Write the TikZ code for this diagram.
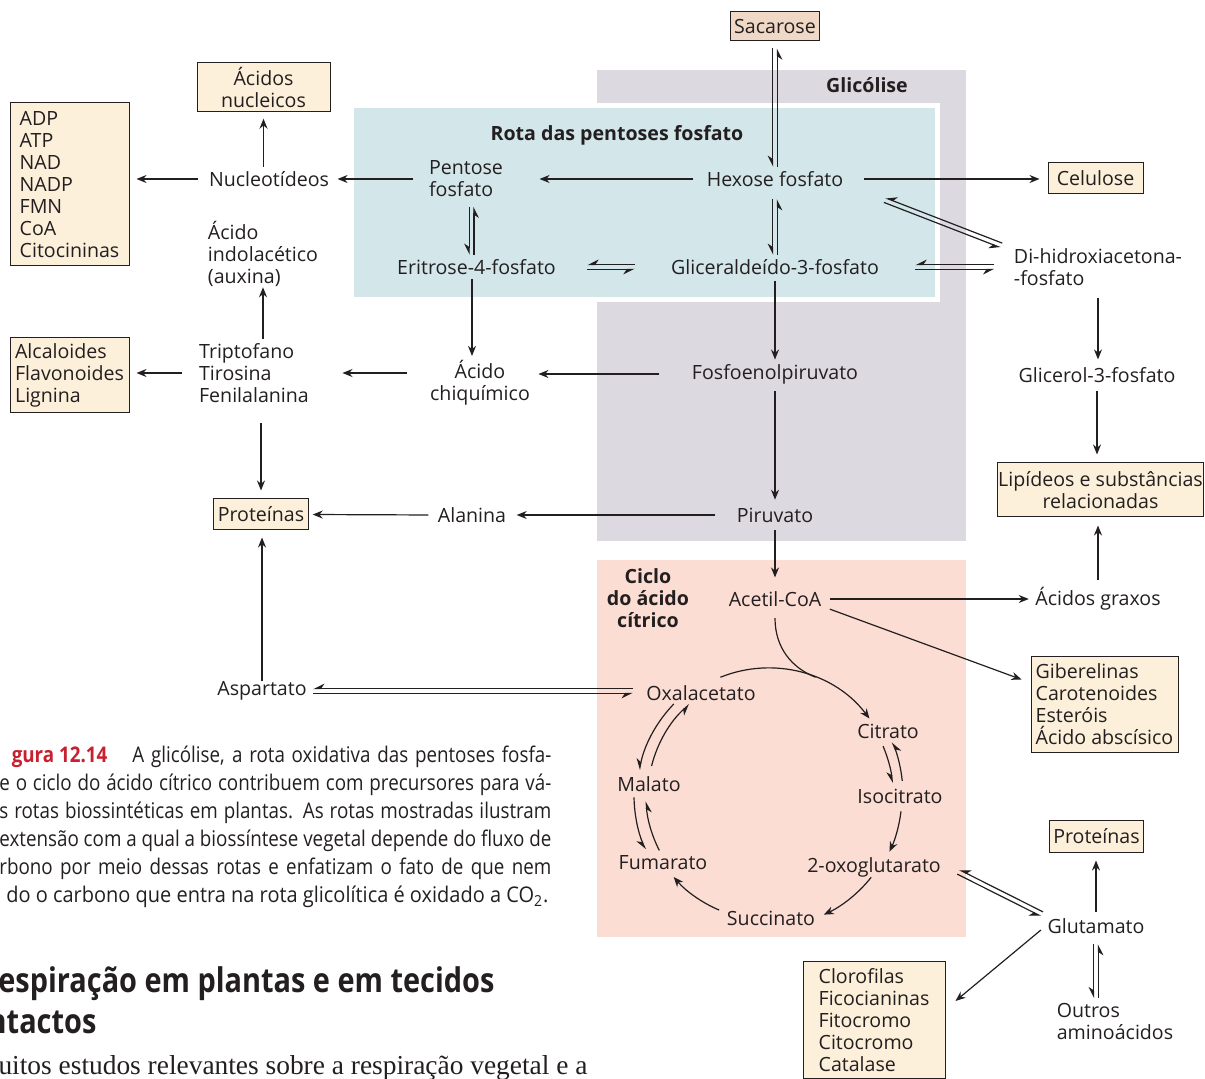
\documentclass[tikz,border=0pt]{standalone}
\usepackage{fontspec}
\setmainfont{Open Sans}
\newfontfamily\capfont[FakeStretch=0.87]{Open Sans}
\newfontfamily\capwide[FakeStretch=0.925]{Open Sans}
\newfontfamily\headfont[FakeStretch=0.85]{Open Sans}
\newfontfamily\serifbody{Liberation Serif}
\usetikzlibrary{arrows.meta,calc}

\definecolor{glyc}{HTML}{DCD9E1}
\definecolor{ppp}{HTML}{D3E6EA}
\definecolor{tca}{HTML}{FBDDD3}
\definecolor{prod}{HTML}{FDF0DA}
\definecolor{sucr}{HTML}{EFD9C6}
\definecolor{ink}{HTML}{231F20}
\definecolor{figred}{HTML}{C8202F}

% two opposite half-arrows between two points
\newcommand{\revpair}[2]{%
  \draw[hpn] ($(#1)!1.2pt!-90:(#2)$) -- ($(#2)!1.2pt!90:(#1)$);
  \draw[hpn] ($(#2)!1.2pt!-90:(#1)$) -- ($(#1)!1.2pt!90:(#2)$);}
% one justified caption line
\newcommand{\capline}[2]{\makebox[#1][s]{#2}}

\begin{document}
\begin{tikzpicture}[x=0.5pt, y=-0.5pt, line width=0.6pt,
  every node/.style={font=\fontsize{9.8}{11}\selectfont, text=ink, inner sep=2pt},
  fw/.style={draw=ink, -{Stealth[length=5pt,width=4pt]}},
  hpn/.style={draw=ink, -{Stealth[harpoon,swap,length=5pt,width=5pt]}},
  box/.style={draw=ink, fill=prod, line width=0.5pt, inner sep=2pt},
  ttl/.style={font=\fontsize{9.8}{11}\selectfont\bfseries},
  captxt/.style={anchor=east, inner sep=0pt, font=\capfont\fontsize{10.8}{12}\selectfont}]
  \useasboundingbox (0,0) rectangle (1205,1079);
  \clip (0,0) rectangle (1205,1079);

  % background areas
  \fill[glyc] (597,70) rectangle (966,541);
  \fill[tca] (597,560) rectangle (966,937);
  \fill[white] (349,103) rectangle (940,302);
  \fill[ppp] (354,108) rectangle (935,297);
  \node[ttl] (glictl) at (867,85) {Glicólise};
  \node[ttl] (ppptl) at (617,135) {Rota das pentoses fosfato};
  \node[ttl, align=center] (tcatl) at (648,598) {Ciclo\\do ácido\\cítrico};

  % boxes
  \node[box, fill=sucr, minimum width=41pt, minimum height=14.5pt] (sac) at (775,26.5) {Sacarose};
  \node[box, align=center, minimum width=66.5pt, minimum height=23pt] (acnuc) at (263.5,87) {Ácidos\\nucleicos};
  \node[box, align=left, minimum width=59.5pt, minimum height=81.5pt] (adp) at (69.5,184.5) {ADP\\ATP\\NAD\\NADP\\FMN\\CoA\\Citocininas};
  \node[box, minimum width=47.5pt, minimum height=15.5pt] (cel) at (1095.5,178.5) {Celulose};
  \node[box, align=left, minimum width=59.5pt, minimum height=37.5pt] (alc) at (69.5,375.5) {Alcaloides\\Flavonoides\\Lignina};
  \node[box, minimum width=45pt, minimum height=15.5pt] (protL) at (261,514.5) {Proteínas};
  \node[box, align=center, inner xsep=0.5pt, minimum width=101.5pt, minimum height=27pt] (lip) at (1100.5,490) {Lipídeos e substâncias\\relacionadas};
  \node[box, align=left, minimum width=73.5pt, minimum height=47.5pt] (gib) at (1104.5,704.5) {Giberelinas\\Carotenoides\\Esteróis\\Ácido abscísico};
  \node[box, minimum width=45.5pt, minimum height=16pt] (protR) at (1096.5,836) {Proteínas};
  \node[box, anchor=north, align=left, inner xsep=4pt, inner ysep=3.5pt, minimum width=71pt] (clo) at (874,961) {Clorofilas\\Ficocianinas\\Fitocromo\\Citocromo\\Catalase};

  % metabolites
  \node (hex) at (775,179) {Hexose fosfato};
  \node[align=left] (pent) at (466,179) {Pentose\\fosfato};
  \node (nuc) at (269,179) {Nucleotídeos};
  \node (eri) at (476.5,267) {Eritrose-4-fosfato};
  \node (gli) at (775,267) {Gliceraldeído-3-fosfato};
  \node[align=left] (dhap) at (1098,267.5) {Di-hidroxiacetona-\\-fosfato};
  \node[align=left] (aux) at (263,254) {Ácido\\indolacético\\(auxina)};
  \node[align=left] (trip) at (254,373) {Triptofano\\Tirosina\\Fenilalanina};
  \node[align=center] (chiq) at (480,383) {Ácido\\chiquímico};
  \node (fosfo) at (775,374) {Fosfoenolpiruvato};
  \node (gl3p) at (1097,375) {Glicerol-3-fosfato};
  \node (ala) at (472,515) {Alanina};
  \node (piru) at (775,515) {Piruvato};
  \node (acetil) at (775,599) {Acetil-CoA};
  \node (ag) at (1098,599) {Ácidos graxos};
  \node (asp) at (262,691) {Aspartato};
  \node (oxa) at (701,693) {Oxalacetato};
  \node (cit) at (888,731) {Citrato};
  \node (iso) at (900,796) {Isocitrato};
  \node (mal) at (649,784) {Malato};
  \node (fum) at (663,863) {Fumarato};
  \node (oxo) at (874,867) {2-oxoglutarato};
  \node (suc) at (771,918) {Succinato};
  \node (glu) at (1096,926) {Glutamato};
  \node[align=left] (outros) at (1115,1021) {Outros\\aminoácidos};

  % reversible steps
  \coordinate (sh1) at ([yshift=-3.5pt]sac.south);
  \coordinate (sh2) at (sac.south |- hex.north);
  \revpair{sh1}{sh2}
  \coordinate (hg1) at ([yshift=-4pt]hex.south);
  \coordinate (hg2) at (hex.south |- gli.north);
  \revpair{hg1}{hg2}
  \coordinate (pe1) at ([xshift=2.75pt,yshift=-2.5pt]pent.south);
  \coordinate (pe2) at (pe1 |- eri.north);
  \revpair{pe1}{pe2}
  \coordinate (eg1) at ([xshift=13.5pt]eri.east);
  \coordinate (eg2) at ([xshift=-16pt]gli.west);
  \revpair{eg1}{eg2}
  \coordinate (gd1) at ([xshift=16pt]gli.east);
  \coordinate (gd2) at ($(gli.east -| dhap.west)+(-7.5pt,0)$);
  \revpair{gd1}{gd2}
  \coordinate (hd1) at ([shift={(18.5pt,-4.5pt)}]hex.south east);
  \coordinate (hd2) at ([shift={(-4pt,-0.5pt)}]dhap.north west);
  \revpair{hd1}{hd2}
  \coordinate (ao1) at ([xshift=1pt]asp.east);
  \coordinate (ao2) at ($(ao1 -| oxa.west)+(-4.5pt,0)$);
  \revpair{ao1}{ao2}
  \coordinate (og1) at ([shift={(6.5pt,-2.5pt)}]oxo.east);
  \coordinate (og2) at ([shift={(-0.5pt,6pt)}]glu.west);
  \revpair{og1}{og2}
  \coordinate (go1) at ([yshift=-3pt]glu.south);
  \coordinate (go2) at (glu.south |- outros.north);
  \revpair{go1}{go2}

  % one-way steps
  \draw[fw, shorten <=8pt, shorten >=4pt] (hex.east) -- (hex.east -| cel.west);
  \draw[fw, shorten <=4.5pt, shorten >=16pt] (hex.west) -- (hex.west -| pent.east);
  \draw[fw, shorten <=5.5pt, shorten >=2pt] (pent.west) -- (pent.west -| nuc.east);
  \draw[fw, shorten <=3pt, shorten >=3.5pt] (nuc.west) -- (nuc.west -| adp.east);
  \draw[fw, shorten >=3.5pt] (acnuc.south |- nuc.north) -- (acnuc.south);
  \draw[fw, shorten <=1pt] (gli.south) -- (fosfo.north);
  \draw[fw] ([xshift=-2.25pt]eri.south) -- ([xshift=-2.25pt]eri.south |- chiq.north);
  \draw[fw, shorten <=14pt, shorten >=2pt] (fosfo.west) -- (fosfo.west -| chiq.east);
  \draw[fw, shorten <=9.5pt, shorten >=14.5pt] (trip.east -| chiq.west) -- (trip.east);
  \draw[fw, shorten <=6.5pt, shorten >=3.5pt] (trip.west) -- (trip.west -| alc.east);
  \draw[fw, shorten >=-2pt] (aux.south |- trip.north) -- (aux.south);
  \draw[fw, shorten <=8pt, shorten >=4pt] (trip.south -| protL.north) -- (protL.north);
  \draw[fw, shorten <=1.5pt, shorten >=1.7pt] (fosfo.south) -- (piru.north);
  \draw[fw, shorten <=8.5pt, shorten >=3pt] (piru.west) -- (ala.east);
  \draw[fw, shorten <=2.5pt, shorten >=2pt] (ala.west) -- (protL.east);
  \draw[fw, shorten <=1.7pt, shorten >=4.7pt] (piru.south) -- (acetil.north);
  \draw[fw, shorten <=2pt, shorten >=1pt] (acetil.east) -- (acetil.east -| ag.west);
  \draw[fw] ([shift={(2pt,1pt)}]acetil.south east) -- ([shift={(-4.5pt,-11.5pt)}]gib.north west);
  \draw[fw, shorten <=3.5pt, shorten >=1.7pt] (dhap.south) -- (dhap.south |- gl3p.north);
  \draw[fw, shorten <=1.7pt, shorten >=4pt] (gl3p.south) -- (gl3p.south |- lip.north);
  \draw[fw, shorten <=1.7pt, shorten >=4pt] (ag.north) -- (ag.north |- lip.south);
  \draw[fw, shorten <=-2pt, shorten >=3.5pt] (asp.north) -- (asp.north |- protL.south);
  \draw[fw, shorten <=1pt, shorten >=4pt] (glu.north) -- (glu.north |- protR.south);
  \draw[fw] ([shift={(-1pt,-2pt)}]glu.west) -- ([shift={(5pt,-20pt)}]clo.north east);

  % citric acid cycle
  \coordinate (cyc) at (768,795);
  \coordinate (join) at ($(cyc)+(-68:127)$);
  \draw[draw=ink, shorten <=3.5pt] (acetil.south) .. controls (775,648) and (792,668) .. (join);
  \draw[fw] ($(cyc)+(-112:127)$) arc[start angle=-112, end angle=-37, radius=127];
  \draw[hpn] ($(cyc)+(-23:125)$) arc[start angle=-23, end angle=-5.5, radius=125];
  \draw[hpn] ($(cyc)+(-6:135)$) arc[start angle=-6, end angle=-23, radius=135];
  \draw[fw] ($(cyc)+(7:134)$) arc[start angle=7, end angle=25, radius=134];
  \draw[fw] ($(cyc)+(38.6:132)$) arc[start angle=38.6, end angle=65, radius=132];
  \draw[fw] ($(cyc)+(113:125)$) arc[start angle=113, end angle=139, radius=125];
  \draw[hpn] ($(cyc)+(179:134)$) arc[start angle=179, end angle=156, radius=134];
  \draw[hpn] ($(cyc)+(153:122)$) arc[start angle=153, end angle=177, radius=122];
  \draw[hpn] ($(cyc)+(-136:131)$) arc[start angle=-136, end angle=-169, radius=131];
  \draw[hpn] ($(cyc)+(-166:120)$) arc[start angle=-166, end angle=-131, radius=120];

  % caption and page text
  \node[captxt, font=\capfont\fontsize{10.8}{12}\selectfont\bfseries, text=figred] (fignum) at (108,757) {gura 12.14};
  \node[captxt] (cap1) at (552,757) {\capline{209.5pt}{A glicólise, a rota oxidativa das pentoses fosfa-}};
  \node[captxt] (cap2) at (552,785) {\capline{276pt}{e o ciclo do ácido cítrico contribuem com precursores para vá-}};
  \node[captxt] (cap3) at (552,813) {\capline{276pt}{s rotas biossintéticas em plantas. As rotas mostradas ilustram}};
  \node[captxt] (cap4) at (552,841) {\capline{276pt}{extensão com a qual a biossíntese vegetal depende do fluxo de}};
  \node[captxt] (cap5) at (552,869) {\capline{276pt}{rbono por meio dessas rotas e enfatizam o fato de que nem}};
  \node[captxt, font=\capwide\fontsize{10.8}{12}\selectfont] (cap6) at (549,897) {do o carbono que entra na rota glicolítica é oxidado a CO\textsubscript{2}.};
  \node[anchor=east, font=\headfont\fontsize{17}{19}\selectfont\bfseries] (head1) at (499,984) {espiração em plantas e em tecidos};
  \node[anchor=east, font=\headfont\fontsize{17}{19}\selectfont\bfseries] (head2) at (101,1022) {ntactos};
  \node[anchor=east, font=\serifbody\fontsize{13.7}{15}\selectfont] (body1) at (592,1068) {uitos estudos relevantes sobre a respiração vegetal e a};
\end{tikzpicture}
\end{document}
